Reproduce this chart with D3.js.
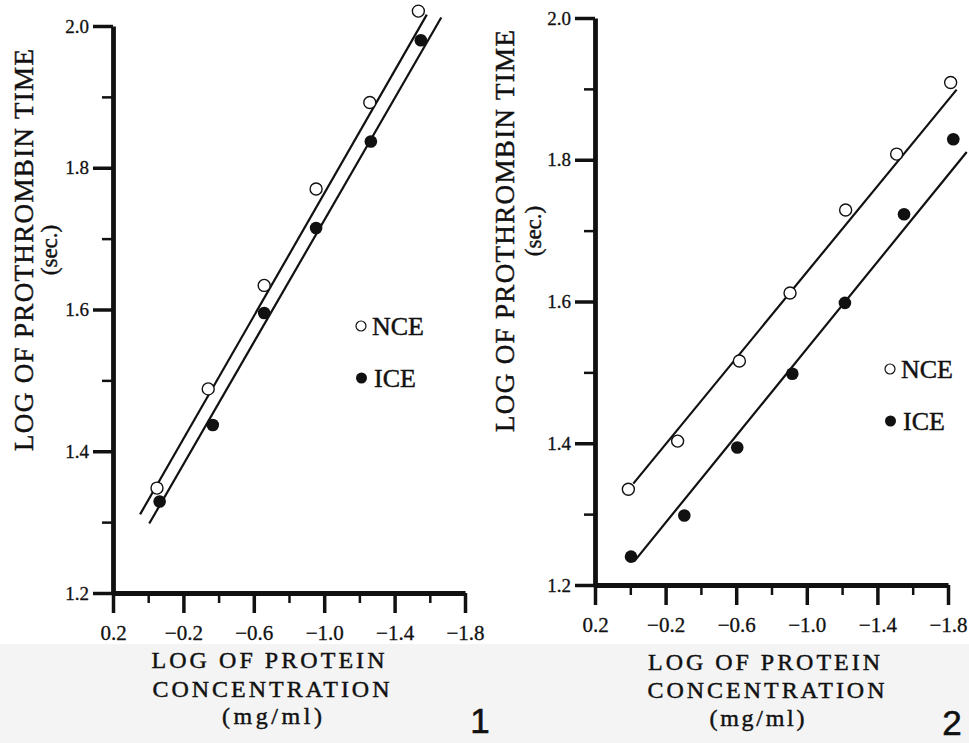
<!DOCTYPE html>
<html>
<head>
<meta charset="utf-8">
<script src="https://cdn.jsdelivr.net/npm/d3@7"></script>
<style>
  body { margin: 0; background: #fff; }
  svg { display: block; }
  text { font-family: "Liberation Serif", "Times New Roman", serif; fill: #111; stroke: #111; stroke-width: 0.45px; }
  .panel-no { font-family: "Liberation Sans", Arial, sans-serif; stroke-width: 0.6px; }
</style>
</head>
<body>
<svg id="chart"></svg>
<script>
const width = 969;
const height = 743;

// axis ticks (same for both figures)
const xTicks = [0.2, -0.2, -0.6, -1.0, -1.4, -1.8];
const xMinor = [0.0, -0.4, -0.8, -1.2, -1.6];
const yTicks = [1.2, 1.4, 1.6, 1.8, 2.0];
const yMinor = [1.3, 1.5, 1.7, 1.9];

// figure 1: [log protein conc, log prothrombin time]
const nce1 = [[-0.05, 1.348], [-0.341, 1.488], [-0.659, 1.634], [-0.954, 1.770], [-1.259, 1.892], [-1.535, 2.021]];
const ice1 = [[-0.065, 1.329], [-0.367, 1.437], [-0.659, 1.595], [-0.954, 1.715], [-1.265, 1.837], [-1.549, 1.980]];
const nceFit1 = [[0.046, 1.311], [-1.583, 2.016]];
const iceFit1 = [[-0.006, 1.298], [-1.665, 2.012]];

// figure 2
const nce2 = [[0.011, 1.335], [-0.268, 1.403], [-0.618, 1.516], [-0.905, 1.612], [-1.220, 1.729], [-1.509, 1.808], [-1.815, 1.909]];
const ice2 = [[-0.004, 1.240], [-0.306, 1.298], [-0.606, 1.394], [-0.918, 1.498], [-1.216, 1.598], [-1.551, 1.723], [-1.830, 1.829]];
const nceFit2 = [[-0.017, 1.343], [-1.849, 1.899]];
const iceFit2 = [[-0.021, 1.233], [-1.906, 1.811]];

const legendLabels = ['NCE', 'ICE'];
const yTitle = 'LOG OF PROTHROMBIN TIME';
const yUnit = '(sec.)';
const xTitle = ['LOG OF PROTEIN', 'CONCENTRATION', '(mg/ml)'];

const svg = d3.select('#chart')
    .attr('width', width)
    .attr('height', height);

// light grey strip under the plots (scan background)
svg.append('rect')
    .attr('x', 0).attr('y', 644)
    .attr('width', width).attr('height', height - 644)
    .attr('fill', '#f4f4f4');

const fmt = d3.format('.1f');

const panels = [
    { no: '1', left: 113, right: 465, bottom: 593, top: 26,
      nce: nce1, ice: ice1, nceFit: nceFit1, iceFit: iceFit1,
      legend: [361, 326], yTitleX: 33, yUnitX: 57, yMid: 250,
      xTitle: [[268, 668, 233], [271, 697, 237], [272, 724, 100]], noPos: [480, 733] },
    { no: '2', left: 595, right: 948, bottom: 585, top: 18,
      nce: nce2, ice: ice2, nceFit: nceFit2, iceFit: iceFit2,
      legend: [890, 369], yTitleX: 514, yUnitX: 541, yMid: 231,
      xTitle: [[764, 670, 232], [766, 698, 237], [757, 726, 95]], noPos: [952, 735] }
];

panels.forEach(drawPanel);

function drawPanel(p) {
    const g = svg.append('g');

    const x = d3.scaleLinear().domain([0.2, -1.8]).range([p.left, p.right]);
    const y = d3.scaleLinear().domain([1.2, 2.0]).range([p.bottom, p.top]);

    // minor ticks first
    g.append('g')
        .attr('transform', `translate(0, ${p.bottom})`)
        .call(d3.axisBottom(x).tickValues(xMinor).tickSize(10).tickSizeOuter(0).tickFormat(''))
        .call(a => a.select('.domain').remove())
        .call(a => a.selectAll('line').attr('stroke-width', 2.5).attr('stroke', '#111'));

    g.append('g')
        .attr('transform', `translate(${p.left}, 0)`)
        .call(d3.axisLeft(y).tickValues(yMinor).tickSize(11).tickSizeOuter(0).tickFormat(''))
        .call(a => a.select('.domain').remove())
        .call(a => a.selectAll('line').attr('stroke-width', 2.5).attr('stroke', '#111'));

    const xAxis = g.append('g')
        .attr('transform', `translate(0, ${p.bottom})`)
        .call(d3.axisBottom(x).tickValues(xTicks).tickSize(20).tickSizeOuter(0).tickPadding(12).tickFormat(fmt));

    const yAxis = g.append('g')
        .attr('transform', `translate(${p.left}, 0)`)
        .call(d3.axisLeft(y).tickValues(yTicks).tickSize(20).tickSizeOuter(0).tickPadding(4).tickFormat(fmt));

    [xAxis, yAxis].forEach(a => {
        a.attr('font-family', '"Liberation Serif", serif');
        a.select('.domain').attr('stroke', '#111').attr('stroke-width', 4.8);
        a.selectAll('.tick line').attr('stroke', '#111').attr('stroke-width', 3.5);
        a.selectAll('.tick text').attr('fill', '#111').style('stroke-width', '0.3px');
    });
    xAxis.attr('font-size', 21);
    yAxis.attr('font-size', 19);

    // fitted lines
    const line = d3.line().x(d => x(d[0])).y(d => y(d[1]));
    [p.nceFit, p.iceFit].forEach(f => {
        g.append('path')
            .attr('d', line(f))
            .attr('fill', 'none')
            .attr('stroke', '#111')
            .attr('stroke-width', 2.2);
    });

    // points
    g.selectAll('.nce').data(p.nce).enter().append('circle')
        .attr('cx', d => x(d[0]))
        .attr('cy', d => y(d[1]))
        .attr('r', 6)
        .attr('fill', '#fff')
        .attr('stroke', '#111')
        .attr('stroke-width', 1.4);

    g.selectAll('.ice').data(p.ice).enter().append('circle')
        .attr('cx', d => x(d[0]))
        .attr('cy', d => y(d[1]))
        .attr('r', 6.3)
        .attr('fill', '#111');

    // legend
    const [lx, ly] = p.legend;
    g.append('circle').attr('cx', lx).attr('cy', ly).attr('r', 5)
        .attr('fill', '#fff').attr('stroke', '#111').attr('stroke-width', 1.2);
    g.append('text').attr('x', lx + 11).attr('y', ly + 9)
        .style('font-size', '26px').text(legendLabels[0]);
    g.append('circle').attr('cx', lx + 0.5).attr('cy', ly + 52).attr('r', 5.5)
        .attr('fill', '#111');
    g.append('text').attr('x', lx + 13).attr('y', ly + 61)
        .style('font-size', '26px').text(legendLabels[1]);

    // y title
    g.append('text')
        .attr('transform', `translate(${p.yTitleX}, ${p.yMid}) rotate(-90)`)
        .attr('text-anchor', 'middle')
        .attr('textLength', 402)
        .attr('lengthAdjust', 'spacing')
        .style('font-size', '27px')
        .text(yTitle);
    g.append('text')
        .attr('transform', `translate(${p.yUnitX}, ${p.yMid}) rotate(-90)`)
        .attr('text-anchor', 'middle')
        .style('font-size', '23px')
        .text(yUnit);

    // x title
    xTitle.forEach((t, i) => {
        const [cx, by, len] = p.xTitle[i];
        g.append('text')
            .attr('x', cx).attr('y', by)
            .attr('text-anchor', 'middle')
            .attr('textLength', len)
            .attr('lengthAdjust', 'spacing')
            .style('font-size', '24px')
            .text(t);
    });

    // figure number
    g.append('text')
        .attr('class', 'panel-no')
        .attr('x', p.noPos[0]).attr('y', p.noPos[1])
        .attr('text-anchor', 'middle')
        .style('font-size', '35px')
        .text(p.no);
}
</script>
</body>
</html>
